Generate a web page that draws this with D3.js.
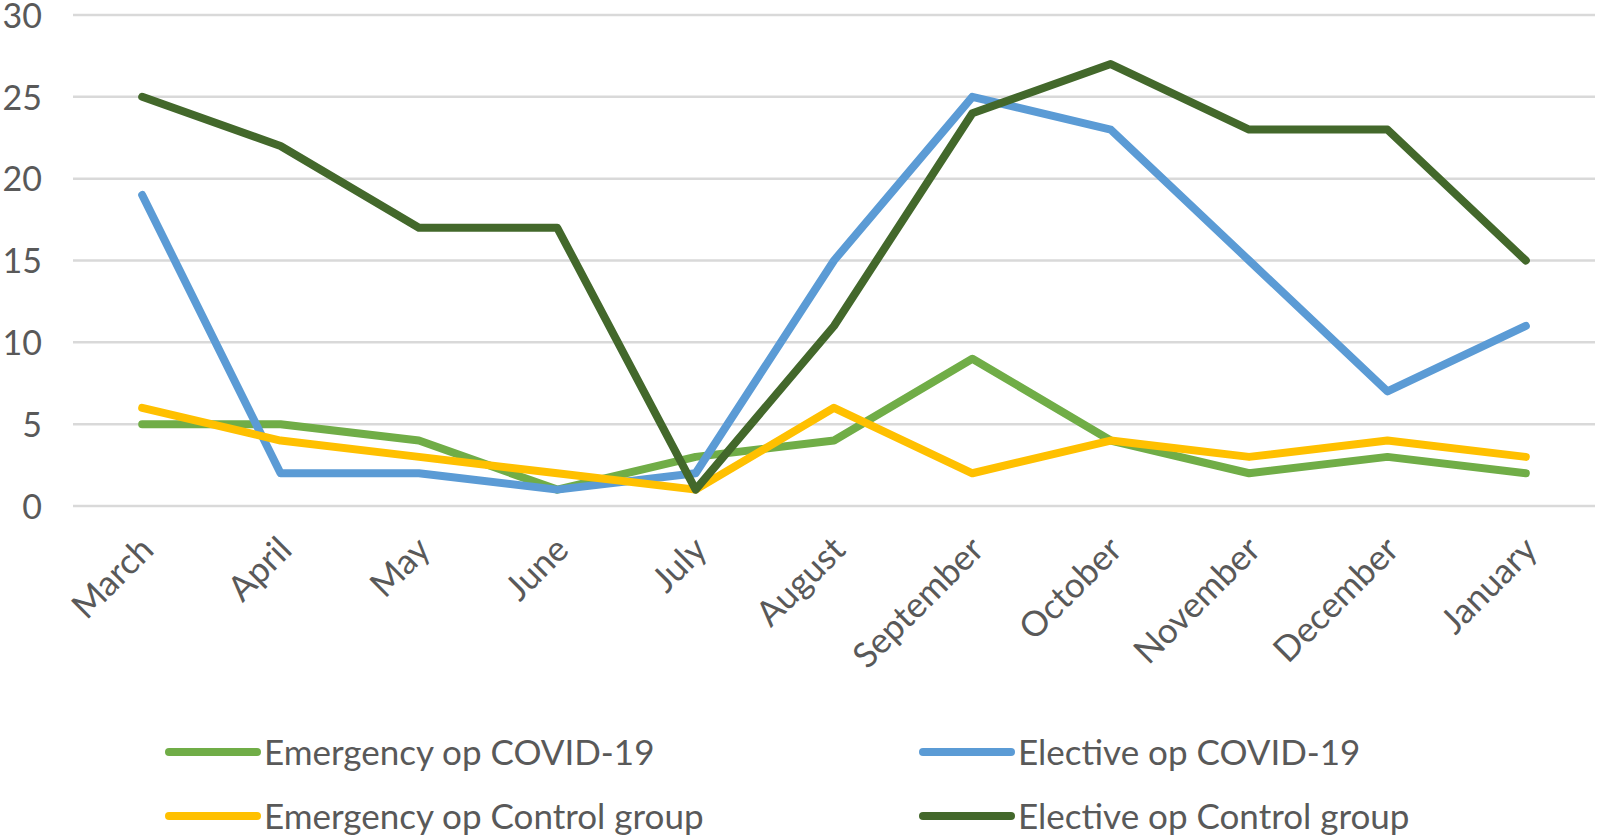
<!DOCTYPE html>
<html><head><meta charset="utf-8">
<script src="https://cdn.jsdelivr.net/npm/d3@7"></script>
<style>
html,body{margin:0;padding:0;background:#fff;}
svg{display:block;}
text{font-family:Lato,"Open Sans",sans-serif;fill:#595959;}
</style></head>
<body>
<svg id="chart" width="1600" height="836"></svg>
<script>
const months = ["March","April","May","June","July","August","September","October","November","December","January"];
const emergencyCovid = [5,5,4,1,3,4,9,4,2,3,2];
const electiveCovid = [19,2,2,1,2,15,25,23,15,7,11];
const emergencyControl = [6,4,3,2,1,6,2,4,3,4,3];
const electiveControl = [25,22,17,17,1,11,24,27,23,23,15];
const yTicks = [0,5,10,15,20,25,30];
const seriesNames = ["Emergency op COVID-19","Elective op COVID-19","Emergency op Control group","Elective op Control group"];
const seriesColors = ["#70AD47","#5B9BD5","#FFC000","#43682B"];

const series = [
  {name: seriesNames[0], values: emergencyCovid, color: seriesColors[0]},
  {name: seriesNames[1], values: electiveCovid, color: seriesColors[1]},
  {name: seriesNames[2], values: emergencyControl, color: seriesColors[2]},
  {name: seriesNames[3], values: electiveControl, color: seriesColors[3]}
];
const svg = d3.select("#chart");
const plotLeft = 73, plotRight = 1595, plotTop = 15, plotBottom = 506;
const fontSize = 35;

const x = d3.scalePoint().domain(months).range([plotLeft, plotRight]).padding(0.5);
const y = d3.scaleLinear().domain([0,30]).range([plotBottom, plotTop]);

// gridlines
svg.append("g").selectAll("line").data(yTicks).join("line")
  .attr("x1", plotLeft).attr("x2", plotRight)
  .attr("y1", d => y(d)).attr("y2", d => y(d))
  .attr("stroke", "#D9D9D9").attr("stroke-width", 2.5);

// y axis labels
const yAxis = d3.axisLeft(y).tickValues(yTicks).tickSize(0).tickPadding(0);
const gy = svg.append("g").attr("transform", `translate(42,0)`).call(yAxis);
gy.select(".domain").remove();
gy.selectAll("text").attr("font-size", 34).attr("fill", "#595959")
  .style("font-family", "Lato, 'Open Sans', sans-serif").attr("dy", "0.36em");

// x axis labels
const xAxis = d3.axisBottom(x).tickSize(0).tickPadding(0);
const gx = svg.append("g").attr("transform", `translate(0,${plotBottom})`).call(xAxis);
gx.select(".domain").remove();
gx.selectAll(".tick text")
  .attr("font-size", fontSize).attr("fill", "#595959")
  .style("font-family", "Lato, 'Open Sans', sans-serif")
  .attr("text-anchor", "end")
  .attr("y", 0).attr("dy", "0.72em")
  .attr("transform", "translate(-5,28) rotate(-45)");

// lines
const line = d3.line().x((d,i) => x(months[i])).y(d => y(d));
svg.append("g").selectAll("path").data(series).join("path")
  .attr("d", d => line(d.values))
  .attr("fill", "none").attr("stroke", d => d.color)
  .attr("stroke-width", 8).attr("stroke-linejoin", "round").attr("stroke-linecap", "round");

// legend
const legendPos = [[169,752],[923,752],[169,816],[923,816]];
const lg = svg.append("g").selectAll("g").data(series).join("g")
  .attr("transform", (d,i) => `translate(${legendPos[i][0]},${legendPos[i][1]})`);
lg.append("line").attr("x1", 0).attr("x2", 88).attr("y1", 0).attr("y2", 0)
  .attr("stroke", d => d.color).attr("stroke-width", 8).attr("stroke-linecap", "round");
lg.append("text").attr("x", 95).attr("y", 0).attr("dy", "0.36em")
  .attr("font-size", fontSize).text(d => d.name);
</script>
</body></html>
